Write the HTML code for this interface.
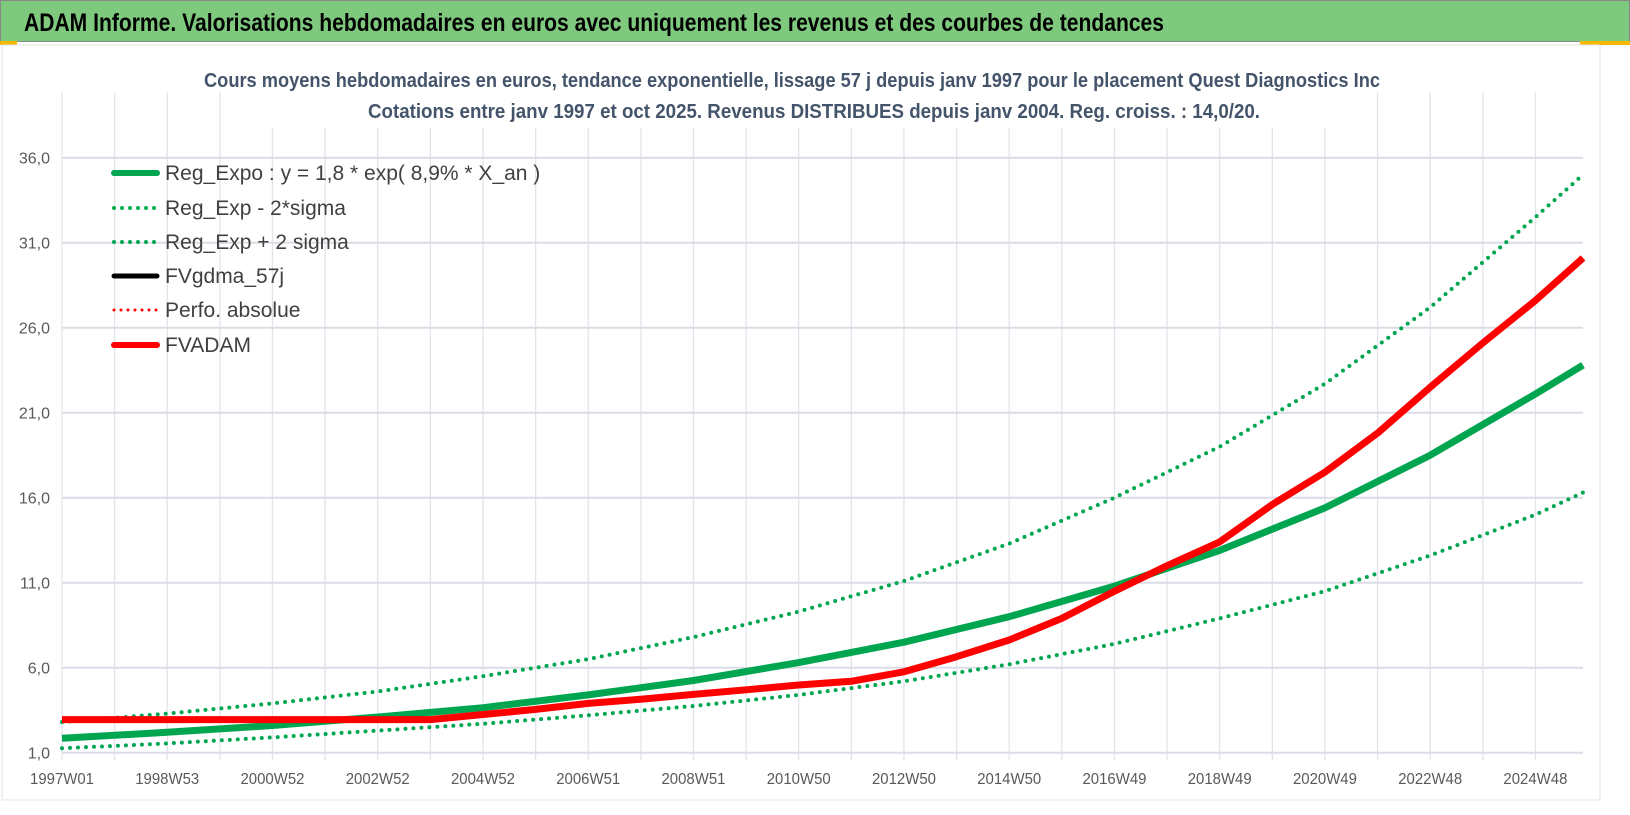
<!DOCTYPE html>
<html><head><meta charset="utf-8"><style>
html,body{margin:0;padding:0;background:#fff;}
svg{display:block;font-family:"Liberation Sans",sans-serif;}
</style></head><body>
<svg id="chart" width="1630" height="815" viewBox="0 0 1630 815">
<rect x="0" y="0" width="1630" height="815" fill="#fff"/>
<rect x="0.5" y="0.5" width="1629" height="41" fill="#7fc97f" stroke="#888"/>
<text x="24" y="31" font-size="25" font-weight="bold" fill="#000" textLength="1140" lengthAdjust="spacingAndGlyphs">ADAM Informe. Valorisations hebdomadaires en euros avec uniquement les revenus et des courbes de tendances</text>
<rect x="0" y="41" width="17" height="4" fill="#f5b800"/>
<rect x="1580" y="41" width="50" height="4" fill="#f5b800"/>
<rect x="2" y="45" width="1598" height="755" fill="#fff" stroke="#e3e3e3"/>
<g id="grid"></g>
<rect x="270" y="60" width="1080" height="68" fill="#fff"/>
<text x="792" y="87" font-size="20" font-weight="bold" fill="#44546a" text-anchor="middle" textLength="1176" lengthAdjust="spacingAndGlyphs">Cours moyens hebdomadaires en euros, tendance exponentielle, lissage 57 j depuis janv 1997 pour le placement Quest Diagnostics Inc</text>
<text x="814" y="118" font-size="20" font-weight="bold" fill="#44546a" text-anchor="middle" textLength="892" lengthAdjust="spacingAndGlyphs">Cotations entre janv 1997 et oct 2025. Revenus DISTRIBUES depuis janv 2004. Reg. croiss. : 14,0/20.</text>
<g id="axes"></g>
<g id="series"></g>
<g id="legend"></g>
</svg>
<script>
const weeks = [0,104,208,312,416,520,624,728,832,936,1040,1144,1248,1352,1456,1503];
const regMid = [1.85,2.2,2.6,3.1,3.65,4.4,5.25,6.3,7.5,9.0,10.8,12.9,15.4,18.5,22.1,23.8];
const regUp = [2.8,3.3,3.9,4.6,5.5,6.5,7.8,9.3,11.1,13.3,16.0,19.0,22.7,27.2,32.5,35.0];
const regLow = [1.26,1.55,1.9,2.3,2.7,3.2,3.75,4.4,5.2,6.2,7.4,8.9,10.5,12.6,15.0,16.3];
const adamWeeks = [0,364,416,468,520,572,624,676,728,780,832,884,936,988,1040,1092,1144,1196,1248,1300,1352,1404,1456,1503];
const adamVals = [2.95,2.95,3.25,3.55,3.9,4.15,4.43,4.7,4.98,5.2,5.76,6.65,7.63,8.9,10.5,12.0,13.4,15.6,17.5,19.8,22.5,25.1,27.6,30.1];
const yTicks = [1,6,11,16,21,26,31,36];
const yTickLabels = ["1,0","6,0","11,0","16,0","21,0","26,0","31,0","36,0"];
const xTickWeeks = [0,104,208,312,416,520,624,728,832,936,1040,1144,1248,1352,1456];
const xTickLabels = ["1997W01","1998W53","2000W52","2002W52","2004W52","2006W51","2008W51","2010W50","2012W50","2014W50","2016W49","2018W49","2020W49","2022W48","2024W48"];

const NS="http://www.w3.org/2000/svg";
const X0=62,X1=1583,W_MAX=1503,Y0=752.7,PPU=17;
const xs=w=>X0+w*(X1-X0)/W_MAX;
const ys=v=>Y0-(v-1)*PPU;
function mk(tag,attrs,parent){const e=document.createElementNS(NS,tag);for(const k in attrs)e.setAttribute(k,attrs[k]);parent.appendChild(e);return e;}
const grid=document.getElementById('grid'),axes=document.getElementById('axes'),series=document.getElementById('series'),legend=document.getElementById('legend');

for(let w=0;w<=W_MAX;w+=52){
  const l=mk('line',{x1:xs(w),x2:xs(w),y1:92,y2:760,stroke:'#e1e4ea','stroke-width':1.3},grid);
  
  
}
yTicks.forEach((v,i)=>{
  const l=mk('line',{x1:X0,x2:X1,y1:ys(v),y2:ys(v),stroke:'#dadde5','stroke-width':2},grid);
  
  
  const t=mk('text',{x:50,y:ys(v)+6,'font-size':16,fill:'#595959','text-anchor':'end'},axes);
  t.textContent=yTickLabels[i];
  
  
});
xTickWeeks.forEach((w,i)=>{
  const t=mk('text',{x:xs(w),y:784,'font-size':16,fill:'#595959','text-anchor':'middle',textLength:64,lengthAdjust:'spacingAndGlyphs'},axes);
  t.textContent=xTickLabels[i];
  
  
});

function path(wArr,vArr){return wArr.map((w,i)=>(i?'L':'M')+xs(w).toFixed(1)+','+ys(vArr[i]).toFixed(1)).join(' ');}
function curve(wArr,vArr,attrs,name){
  const p=mk('path',Object.assign({d:path(wArr,vArr),fill:'none','stroke-linejoin':'round'},attrs),series);
  
  
}
curve(weeks,regUp,{stroke:'#00a550','stroke-width':4,'stroke-dasharray':'0 8','stroke-linecap':'round'},'reg-exp-plus-2sigma-line');
curve(weeks,regLow,{stroke:'#00a550','stroke-width':4,'stroke-dasharray':'0 8','stroke-linecap':'round'},'reg-exp-minus-2sigma-line');
curve(weeks,regMid,{stroke:'#00a550','stroke-width':7},'reg-expo-line');
curve(adamWeeks,adamVals,{stroke:'#000','stroke-width':4},'fvgdma-line');
curve(adamWeeks,adamVals,{stroke:'#ff0000','stroke-width':7},'fvadam-line');

const legItems=[
 ['Reg_Expo : y = 1,8 * exp( 8,9% *  X_an )','#00a550',6,null,'legend-reg-expo'],
 ['Reg_Exp - 2*sigma','#00a550',4,'0 8','legend-reg-exp-minus'],
 ['Reg_Exp + 2 sigma','#00a550',4,'0 8','legend-reg-exp-plus'],
 ['FVgdma_57j','#000',5,null,'legend-fvgdma'],
 ['Perfo. absolue','#ff0000',3,'0 7','legend-perfo-absolue'],
 ['FVADAM','#ff0000',6,null,'legend-fvadam']];
const legY=[173,208,242,276,310,345];
legItems.forEach((it,i)=>{
  const g=mk('g',{},legend);
  
  
  const a={x1:114,x2:157,y1:legY[i],y2:legY[i],stroke:it[1],'stroke-width':it[2],'stroke-linecap':'round'};
  if(it[3])a['stroke-dasharray']=it[3];
  mk('line',a,g);
  const t=mk('text',{x:165,y:legY[i]+7,'font-size':21,fill:'#404040'},g);
  t.textContent=it[0];
});
</script>
</body></html>
